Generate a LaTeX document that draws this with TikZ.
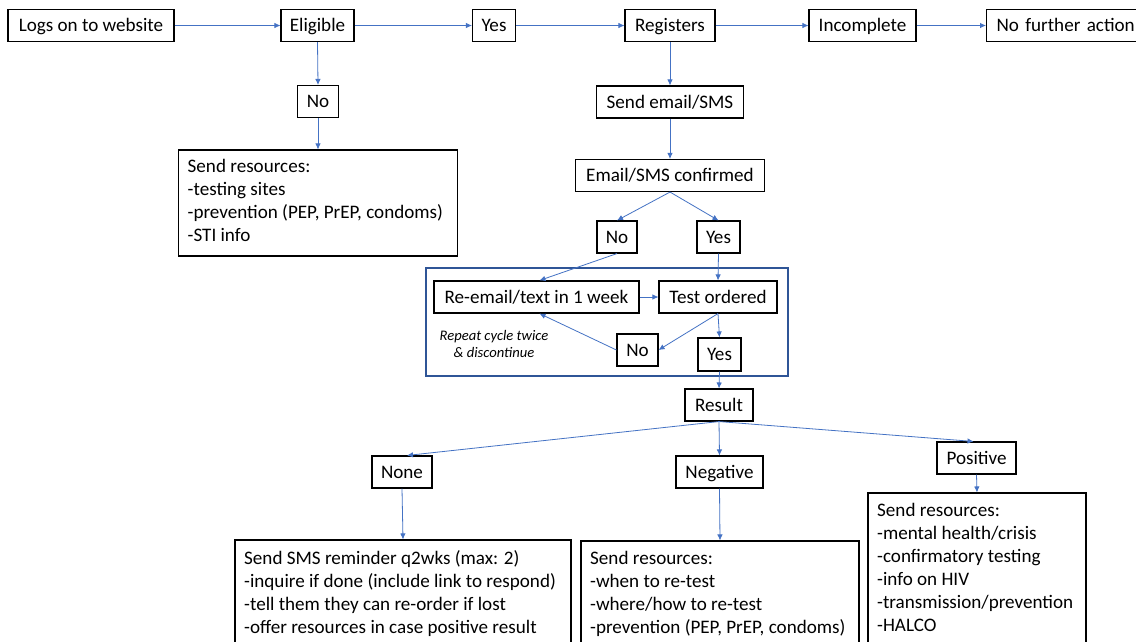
\documentclass[tikz,border=0pt]{standalone}
\usepackage{fontspec}
\setmainfont{Carlito}
\usetikzlibrary{arrows.meta}
\definecolor{arr}{HTML}{4472C4}
\definecolor{frame}{HTML}{2F5597}
\begin{document}
\begin{tikzpicture}[x=1pt,y=-1pt,
  box/.style={draw=black, line width=1.1pt, inner sep=0pt, minimum height=32pt,
    text height=12pt, text depth=0pt, font=\fontsize{19.1}{23}\selectfont},
  bigbox/.style={draw=black, line width=1.1pt, inner sep=0pt},
  conn/.style={draw=arr, line width=0.8pt, -{Latex[length=6pt,width=5.5pt]}},
  txt/.style={inner sep=0pt, align=left, anchor=base west, font=\fontsize{19.1}{23}\selectfont},
  note/.style={inner sep=0pt, align=center, anchor=base, font=\fontsize{14.6}{17}\selectfont\itshape}]
\useasboundingbox (0,0) rectangle (1136,641);
\clip (0,0) rectangle (1136,641);
\fill[white] (0,0) rectangle (1136,641);

% loop frame
\node[draw=frame, line width=1.3pt, minimum width=362pt, minimum height=108pt, inner sep=0pt] (loop) at (607,322) {};

% top row
\node[box, minimum width=166pt] (logs) at (91,25.5) {Logs on to website};
\node[box, minimum width=73pt] (elig) at (317.5,25.5) {Eligible};
\node[box, minimum width=43pt] (yes1) at (494,25.5) {Yes};
\node[box, minimum width=90pt] (reg) at (670,25.5) {Registers};
\node[box, minimum width=107pt] (inc) at (862.5,25.5) {Incomplete};
\node[box, anchor=west, inner xsep=10pt, text width=150pt, align=left] (nfa) at (986,25.5) {No further action};

% left branch
\node[box, minimum width=41pt] (no1) at (318,101.5) {No};
\node[bigbox, minimum width=279pt, minimum height=106pt] (res1) at (318,203) {};
\node[txt] (res1t) at (187.5,241) {Send resources:\\-testing sites\\-prevention (PEP, PrEP, condoms)\\-STI info};

% middle column
\node[box, minimum width=147pt] (sendem) at (670,102) {Send email/SMS};
\node[box, minimum width=189pt] (conf) at (670,175.5) {Email/SMS confirmed};
\node[box, minimum width=40pt] (no2) at (617,237) {No};
\node[box, minimum width=43pt] (yes2) at (718.5,237) {Yes};
\node[box, minimum width=205pt] (reem) at (536.5,297) {Re-email/text in 1 week};
\node[box, minimum width=118pt] (test) at (718,297) {Test ordered};
\node[box, minimum width=41pt] (no3) at (637.5,350) {No};
\node[box, minimum width=43pt, minimum height=33pt] (yes3) at (719.5,354.5) {Yes};
\node[note] (rep) at (494,357) {Repeat cycle twice\\\& discontinue};
\node[box, minimum width=68pt] (result) at (719,405) {Result};

% results
\node[box, minimum width=60pt] (none) at (402,472) {None};
\node[box, minimum width=87pt] (neg) at (719.5,472) {Negative};
\node[box, minimum width=79pt] (pos) at (976.5,458) {Positive};

\node[bigbox, minimum width=336pt, minimum height=140pt] (sms) at (403,610) {};
\node[txt] (smst) at (244,633) {Send SMS reminder q2wks (max: 2)\\-inquire if done (include link to respond)\\-tell them they can re-order if lost\\-offer resources in case positive result};
\node[bigbox, minimum width=278pt, minimum height=140pt] (negres) at (720,611) {};
\node[txt] (negrest) at (590,633) {Send resources:\\-when to re-test\\-where/how to re-test\\-prevention (PEP, PrEP, condoms)};
\node[bigbox, minimum width=218pt, minimum height=200pt] (posres) at (977,593) {};
\node[txt] (posrest) at (877,631) {Send resources:\\-mental health/crisis\\-confirmatory testing\\-info on HIV\\-transmission/prevention\\-HALCO};

% connectors
\draw[conn] (logs.east) -- (elig.west);
\draw[conn] (elig.east) -- (yes1.west);
\draw[conn] (yes1.east) -- (reg.west);
\draw[conn] (reg.east) -- (inc.west);
\draw[conn] (inc.east) -- (nfa.west);
\draw[conn] (elig.south) -- (no1.north);
\draw[conn] (no1.south) -- (res1.north);
\draw[conn] (reg.south) -- (sendem.north);
\draw[conn] (sendem.south) -- (conf.north);
\draw[conn] (conf.south) -- (no2.north);
\draw[conn] (conf.south) -- (yes2.north);
\draw[conn] (no2.south) -- ([xshift=3pt]reem.north);
\draw[conn] (yes2.south) -- (test.north);
\draw[conn] (reem.east) -- (test.west);
\draw[conn] (test.south) -- (no3.east);
\draw[conn] (test.south) -- (yes3.north);
\draw[conn] (no3.west) -- ([xshift=3pt]reem.south);
\draw[conn] (yes3.south) -- (result.north);
\draw[conn] (result.south) -- ([xshift=5pt]none.north);
\draw[conn] (result.south) -- (neg.north);
\draw[conn] (result.south) -- ([xshift=-3pt]pos.north);
\draw[conn] (none.south) -- (sms.north);
\draw[conn] (neg.south) -- (negres.north);
\draw[conn] (pos.south) -- (posres.north);
\end{tikzpicture}
\end{document}
